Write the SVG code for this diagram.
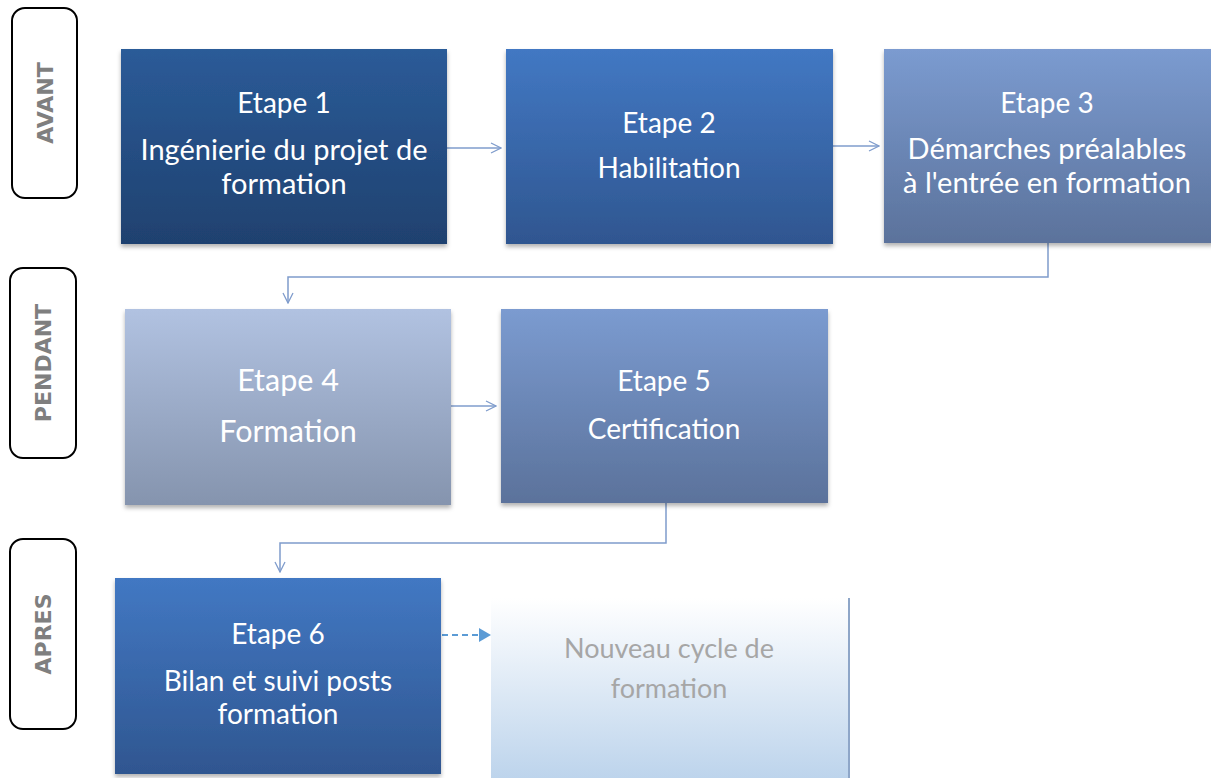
<svg xmlns="http://www.w3.org/2000/svg" width="1211" height="778" viewBox="0 0 1211 778">
<style>
.phase{fill:#fff;stroke:#000;stroke-width:2}
.ptxt{font-family:"DejaVu Sans",sans-serif;font-weight:bold;font-size:22px;fill:#7f7f7f;text-anchor:middle}
.t{font-family:Lato,"Open Sans",sans-serif;font-size:28px;fill:#fff;text-anchor:middle}
.l{font-size:29px}
.b{font-size:30.5px}
.g{fill:#a6a6a6;font-size:27px}
.con{fill:none;stroke:#7f9ccc;stroke-width:1.5}
</style>
<defs>
<filter id="sh" x="-5%" y="-5%" width="110%" height="115%"><feDropShadow dx="0" dy="3" stdDeviation="2" flood-color="#000" flood-opacity="0.3"/></filter>
<linearGradient id="g1" x1="0" y1="0" x2="0" y2="1"><stop offset="0" stop-color="#2b5b98"/><stop offset="1" stop-color="#1f416f"/></linearGradient>
<linearGradient id="g2" x1="0" y1="0" x2="0" y2="1"><stop offset="0" stop-color="#4278c3"/><stop offset="1" stop-color="#2f5690"/></linearGradient>
<linearGradient id="g3" x1="0" y1="0" x2="0" y2="1"><stop offset="0" stop-color="#7b9bd0"/><stop offset="1" stop-color="#5b729b"/></linearGradient>
<linearGradient id="g4" x1="0" y1="0" x2="0" y2="1"><stop offset="0" stop-color="#b1c2e1"/><stop offset="1" stop-color="#8594ae"/></linearGradient>
<linearGradient id="gn" x1="0" y1="0" x2="0" y2="1"><stop offset="0" stop-color="#ffffff"/><stop offset="1" stop-color="#bdd4ec"/></linearGradient>
<marker id="open" viewBox="0 0 12 12" refX="11" refY="6" markerWidth="12" markerHeight="12" markerUnits="userSpaceOnUse" orient="auto"><path d="M1,1 L11,6 L1,11" fill="none" stroke="#7f9ccc" stroke-width="1.3"/></marker>
<marker id="fill" viewBox="0 0 12 14" refX="11" refY="7" markerWidth="12" markerHeight="14" markerUnits="userSpaceOnUse" orient="auto"><path d="M0,0 L12,7 L0,14 Z" fill="#5b9bd5"/></marker>
</defs>

<g id="phase-avant"><rect class="phase" x="12" y="8" width="65" height="190" rx="13"/><text class="ptxt" transform="translate(53,103) rotate(-90)">AVANT</text></g>
<g id="phase-pendant"><rect class="phase" x="10" y="268" width="66" height="190" rx="13"/><text class="ptxt" transform="translate(51,363) rotate(-90)">PENDANT</text></g>
<g id="phase-apres"><rect class="phase" x="10" y="539" width="66" height="190" rx="13"/><text class="ptxt" transform="translate(51,634) rotate(-90)">APRES</text></g>

<g id="connectors">
<line class="con" x1="447" y1="148" x2="501" y2="148" marker-end="url(#open)"/>
<line class="con" x1="833" y1="146" x2="879" y2="146" marker-end="url(#open)"/>
<polyline class="con" points="1048,243 1048,277 288,277 288,303" stroke="#b4c6e2" marker-end="url(#open)"/>
<line class="con" x1="451" y1="406" x2="496" y2="406" stroke="#b4c6e2" marker-end="url(#open)"/>
<polyline class="con" points="666,503 666,543 280,543 280,572" marker-end="url(#open)"/>
<line x1="442" y1="635" x2="490" y2="635" stroke="#5b9bd5" stroke-width="2" stroke-dasharray="6,4" marker-end="url(#fill)"/>
</g>

<g id="etape1"><rect x="121" y="49" width="326" height="195" fill="url(#g1)" filter="url(#sh)"/>
<text class="t" x="284" y="113">Etape 1</text><text class="t l" x="284" y="160">Ingénierie du projet de</text><text class="t l" x="284" y="194">formation</text></g>
<g id="etape2"><rect x="506" y="49" width="327" height="195" fill="url(#g2)" filter="url(#sh)"/>
<text class="t" x="669" y="133">Etape 2</text><text class="t" x="669" y="178">Habilitation</text></g>
<g id="etape3"><rect x="884" y="49" width="330" height="194" fill="url(#g3)" filter="url(#sh)"/>
<text class="t" x="1047" y="113">Etape 3</text><text class="t l" x="1047" y="159">Démarches préalables</text><text class="t l" x="1047" y="193">à l'entrée en formation</text></g>
<g id="etape4"><rect x="125" y="309" width="326" height="196" fill="url(#g4)" filter="url(#sh)"/>
<text class="t b" x="288" y="391">Etape 4</text><text class="t b" x="288" y="442">Formation</text></g>
<g id="etape5"><rect x="501" y="309" width="327" height="194" fill="url(#g3)" filter="url(#sh)"/>
<text class="t" x="664" y="391">Etape 5</text><text class="t" x="664" y="439">Certification</text></g>
<g id="etape6"><rect x="115" y="578" width="326" height="196" fill="url(#g2)" filter="url(#sh)"/>
<text class="t" x="278" y="644">Etape 6</text><text class="t" x="278" y="691">Bilan et suivi posts</text><text class="t" x="278" y="724">formation</text></g>
<g id="nouveau"><rect x="491" y="598" width="358" height="180" fill="url(#gn)"/>
<line x1="849" y1="598" x2="849" y2="778" stroke="#8ea6c8" stroke-width="2"/>
<text class="t g" x="669" y="658">Nouveau cycle de</text><text class="t g" x="669" y="698">formation</text></g>
</svg>
